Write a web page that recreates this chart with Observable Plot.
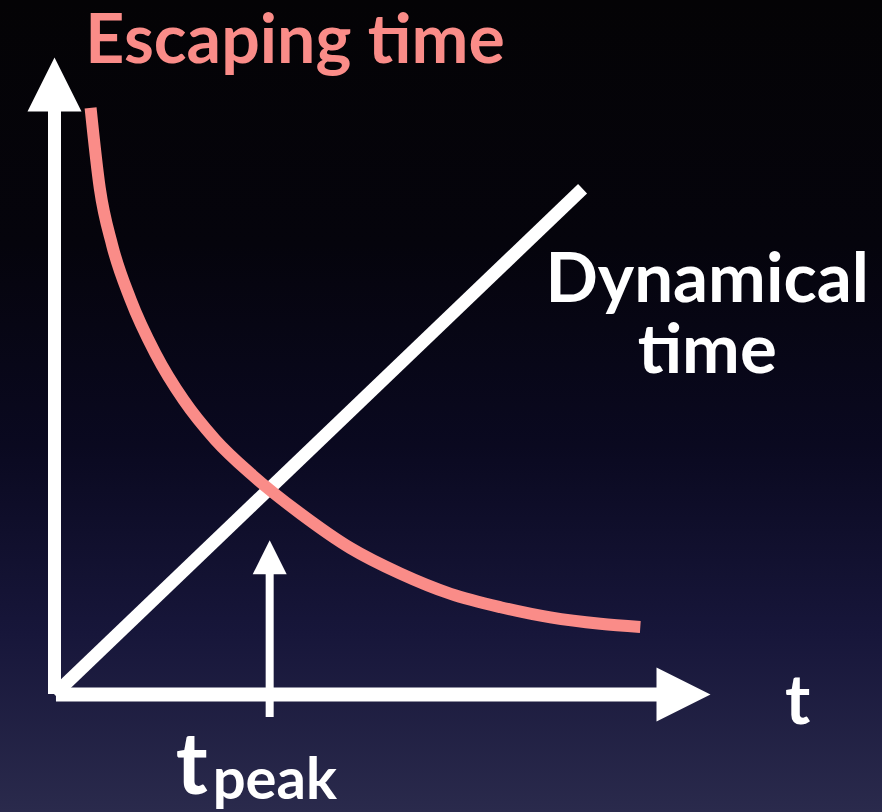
<!DOCTYPE html>
<html>
<head>
<meta charset="utf-8">
<script src="https://cdn.jsdelivr.net/npm/d3@7"></script>
<script src="https://cdn.jsdelivr.net/npm/@observablehq/plot@0.6"></script>
<style>
  html, body { margin: 0; padding: 0; width: 882px; height: 812px; overflow: hidden;
    background: linear-gradient(to bottom, #040305 0%, #05040c 30%, #0a0920 55%, #17163a 78%, #2a2a4c 100%); }
  #chart svg { display: block; }
</style>
</head>
<body>
<div id="chart"></div>
<script>
// ---- data (abstract units: t along x, time along y) ----
const escT    = [0.55, 0.69, 0.88, 1.16, 1.54, 1.97, 2.45, 3.02, 3.75, 4.51, 5.27, 6.04, 6.80, 7.56, 8.32, 8.93];
const escTime = [9.21, 7.95, 7.05, 6.20, 5.35, 4.62, 4.00, 3.44, 2.84, 2.30, 1.90, 1.58, 1.37, 1.21, 1.11, 1.06];
const dynT    = [0, 8.05];
const dynTime = [0, 7.94];
const tPeak = 3.28;
const peakArrowBottom = -0.36;
const peakArrowTip = 2.42;
const axisMax = 10;
const escLabel = "Escaping time";
const dynLabel = "Dynamical\ntime";
const tLabel = "t";
const peakMain = "t";
const peakSub = "peak";

const escData = escT.map((t, i) => ({t, v: escTime[i]}));
const dynData = dynT.map((t, i) => ({t, v: dynTime[i]}));

const pink = "#fa8c88";
const white = "#ffffff";
const font = "Lato, 'Open Sans', sans-serif";

// filled arrowhead symbols: tip at (0,-r)/(r,0), base 2r wide
const arrowUp = { draw(ctx, size) { const r = Math.sqrt(size / Math.PI);
  ctx.moveTo(0, -r); ctx.lineTo(r, r); ctx.lineTo(-r, r); ctx.closePath(); } };
const arrowRight = { draw(ctx, size) { const r = Math.sqrt(size / Math.PI);
  ctx.moveTo(r, 0); ctx.lineTo(-r, r); ctx.lineTo(-r, -r); ctx.closePath(); } };

const chart = Plot.plot({
  width: 882, height: 812,
  marginLeft: 54, marginRight: 172, marginTop: 57, marginBottom: 118,
  x: {domain: [0, axisMax], axis: null},
  y: {domain: [0, axisMax], axis: null},
  style: {background: "transparent", overflow: "visible"},
  marks: [
    // axes
    Plot.ruleX([0], {y1: 0, y2: axisMax - 0.8, stroke: white, strokeWidth: 13}),
    Plot.ruleY([0], {x1: 0.03, x2: axisMax - 0.8, stroke: white, strokeWidth: 14}),
    Plot.dot([{x: 0, y: axisMax}], {x: "x", y: "y", symbol: arrowUp, r: 27, dy: 27, fill: white, stroke: "none"}),
    Plot.dot([{x: axisMax, y: 0}], {x: "x", y: "y", symbol: arrowRight, r: 27, dx: -27, fill: white, stroke: "none"}),
    // dynamical time
    Plot.line(dynData, {x: "t", y: "v", stroke: white, strokeWidth: 13, strokeLinecap: "butt"}),
    // escaping time
    Plot.line(escData, {x: "t", y: "v", stroke: pink, strokeWidth: 12, strokeLinecap: "butt", curve: "monotone-x"}),
    // t_peak arrow
    Plot.ruleX([tPeak], {y1: peakArrowBottom, y2: peakArrowTip - 0.4, stroke: white, strokeWidth: 8}),
    Plot.dot([{x: tPeak, y: peakArrowTip}], {x: "x", y: "y", symbol: arrowUp, r: 17, dy: 17, fill: white, stroke: "none"}),
    // labels
    Plot.text([escLabel], {x: 0.47, y: 9.92, text: d => d, textAnchor: "start", lineAnchor: "bottom",
      fill: pink, fontFamily: font, fontWeight: "bold", fontSize: 68}),
    Plot.text([dynLabel], {x: 9.95, y: 5.04, text: d => d, textAnchor: "middle", lineAnchor: "bottom",
      lineHeight: 1.03, fill: white, fontFamily: font, fontWeight: "bold", fontSize: 69}),
    Plot.text([tLabel], {x: 11.33, y: -0.47, text: d => d, textAnchor: "middle", lineAnchor: "bottom",
      fill: white, fontFamily: font, fontWeight: "bold", fontSize: 68}),
    Plot.text([peakMain], {x: tPeak, y: 0, dx: -78, dy: 99, text: d => d, textAnchor: "middle", lineAnchor: "bottom",
      fill: white, fontFamily: font, fontWeight: "bold", fontSize: 86}),
    Plot.text([peakSub], {x: tPeak, y: 0, dx: -57, dy: 104, text: d => d, textAnchor: "start", lineAnchor: "bottom",
      fill: white, fontFamily: font, fontWeight: "bold", fontSize: 58})
  ]
});
document.getElementById("chart").appendChild(chart);
</script>
</body>
</html>
